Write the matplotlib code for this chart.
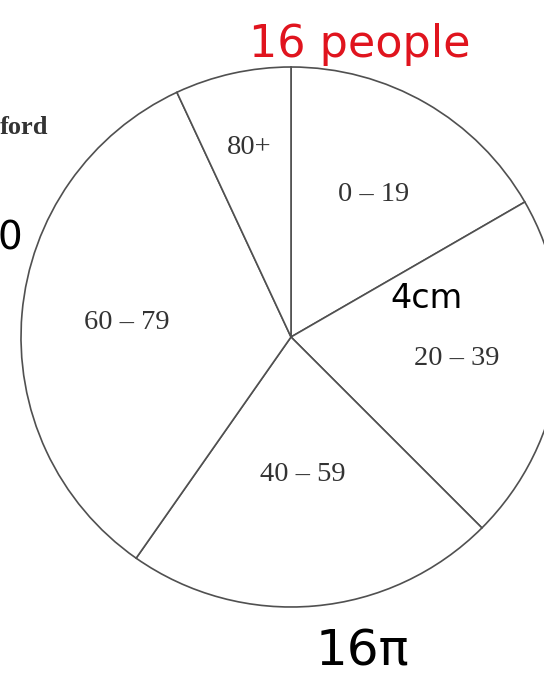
import matplotlib.pyplot as plt
import numpy as np

# Age groups and the angle (degrees) each sector takes up
age_groups = ["0 – 19", "20 – 39", "40 – 59", "60 – 79", "80+"]
angles = [60, 75, 80, 120, 25]

# how far out (fraction of radius) each sector label sits
label_dist = [0.61, 0.62, 0.51, 0.61, 0.72]

W, H = 544, 686
cx, cy, R = 291, H - 337, 270

fig = plt.figure(figsize=(W / 100, H / 100), dpi=100)
ax = fig.add_axes([0, 0, 1, 1])

wedges, _ = ax.pie(
    angles,
    startangle=90,
    counterclock=False,
    center=(cx, cy),
    radius=R,
    colors=["white"] * len(angles),
    labels=None,
    wedgeprops=dict(edgecolor="#505050", linewidth=1.2),
)

for w, lab, d in zip(wedges, age_groups, label_dist):
    mid = np.deg2rad((w.theta1 + w.theta2) / 2)
    ax.text(cx + d * R * np.cos(mid), cy + d * R * np.sin(mid), lab,
            ha="center", va="center", fontsize=20.5,
            family="Liberation Serif", color="#333333")

# printed heading, cut off at the left edge
ax.text(0, H - 128, "ford", ha="left", va="center", fontsize=19,
        family="Liberation Serif", weight="bold", color="#333333")

# handwritten notes
ax.text(360, H - 45, "16 people", ha="center", va="center", fontsize=32,
        family="DejaVu Sans", color="#e0141e")
ax.text(426, H - 298, "4cm", ha="center", va="center", fontsize=24,
        family="DejaVu Sans", color="black")
ax.text(362, H - 652, "16π", ha="center", va="center", fontsize=36,
        family="DejaVu Sans", color="black")
ax.text(22, H - 238, "0", ha="right", va="center", fontsize=28,
        family="DejaVu Sans", color="black")

ax.set_xlim(0, W)
ax.set_ylim(0, H)
ax.axis("off")

plt.savefig("out.png", dpi=100)
